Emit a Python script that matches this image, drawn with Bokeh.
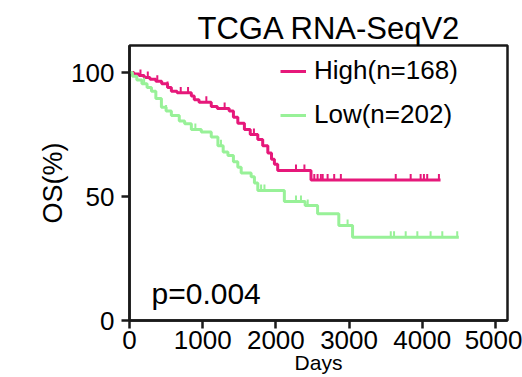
import numpy as np
from bokeh.plotting import figure
from bokeh.models import Range1d, Legend, LegendItem, Label, FixedTicker
from bokeh.embed import file_html
from bokeh.resources import INLINE

# ---- data ----
title_text = "TCGA RNA-SeqV2"
high_label = "High(n=168)"
low_label = "Low(n=202)"
x_ticks = [0, 1000, 2000, 3000, 4000, 5000]
y_ticks = [0, 50, 100]

high_t = [0, 60, 130, 200, 280, 360, 440, 520, 572, 650, 845, 885, 950, 1117, 1200,
          1362, 1420, 1480, 1570, 1650, 1753, 1820, 1890, 1940, 1980, 2025, 2480, 4250]
high_s = [100, 99.4, 98.8, 98, 97.3, 96.5, 95.5, 94, 92.5, 91.8, 90.5, 89, 88, 86.3, 85.5,
          84.5, 82, 79.5, 77, 75, 73, 70.5, 67.5, 65, 63, 60.5, 56.7, 56.7]
high_censor = [150, 250, 380, 520, 700, 800, 1050, 1300, 1700, 2275, 2390, 2525, 2570,
               2615, 2640, 2707, 2797, 2888, 3638, 3842, 3978, 4023, 4068, 4228]

low_t = [0, 40, 100, 170, 240, 300, 360, 436, 500, 572, 680, 754, 845, 981, 1117, 1208,
         1280, 1345, 1420, 1480, 1526, 1662, 1707, 1753, 2116, 2400, 2570, 2860, 3048, 4500]
low_s = [100, 98.5, 97, 95.5, 94, 92.5, 89.5, 86, 84.5, 82.7, 80.5, 79.3, 77, 76, 74, 70.5,
         68, 66.5, 64, 61.8, 59.5, 58, 55.5, 52.4, 48, 46.4, 43, 38.3, 33.6, 33.6]
low_censor = [200, 500, 900, 1250, 1798, 1844, 2275, 2343, 2435, 2980, 3570, 3615, 3774,
              3933, 4114, 4274, 4478]

p_value_text = "p=0.004"
x_label = "Days"
y_label = "OS(%)"

HIGH_COLOR = "#E6187A"
LOW_COLOR = "#98F198"
FONT = "Liberation Sans"


def surv_at(ts, ss, t):
    idx = np.searchsorted(np.asarray(ts), np.asarray(t), side="right") - 1
    return np.asarray(ss)[idx]


p = figure(width=522, height=377, output_backend="svg", toolbar_location=None,
           x_range=Range1d(0, 5165), y_range=Range1d(0, 110.9),
           min_border_left=129, min_border_right=15, min_border_top=45,
           min_border_bottom=57, title=title_text)

p.title.text_font = FONT
p.title.text_font_size = "31px"
p.title.text_font_style = "normal"
p.title.align = "left"
p.title.offset = 68
p.title.standoff = 0
p.title.text_color = "black"

p.xgrid.visible = False
p.ygrid.visible = False
p.outline_line_color = "#1a1a1a"
p.outline_line_width = 2.5
p.background_fill_color = "white"
p.border_fill_color = "white"

for ax in (p.xaxis, p.yaxis):
    ax.axis_line_width = 2.5
    ax.axis_line_color = "#1a1a1a"
    ax.major_tick_line_width = 2.5
    ax.major_tick_line_color = "#1a1a1a"
    ax.major_tick_in = 0
    ax.major_tick_out = 8
    ax.minor_tick_line_color = None
    ax.major_label_text_font = FONT
    ax.major_label_text_font_size = "26px"
    ax.major_label_text_color = "black"

p.xaxis.ticker = FixedTicker(ticks=x_ticks)
p.yaxis.ticker = FixedTicker(ticks=y_ticks)
p.xaxis.major_label_standoff = 2
p.yaxis.major_label_standoff = 7
p.xaxis.axis_label = x_label
p.xaxis.axis_label_text_font = FONT
p.xaxis.axis_label_text_font_size = "21px"
p.xaxis.axis_label_text_font_style = "normal"
p.xaxis.axis_label_text_color = "black"
p.xaxis.axis_label_standoff = -1
p.yaxis.axis_label = y_label
p.yaxis.axis_label_text_font = FONT
p.yaxis.axis_label_text_font_size = "27px"
p.yaxis.axis_label_text_font_style = "normal"
p.yaxis.axis_label_text_color = "black"
p.yaxis.axis_label_standoff = 0

# curves
hl = p.step(high_t, high_s, mode="after", line_color=HIGH_COLOR, line_width=3)
ll = p.step(low_t, low_s, mode="after", line_color=LOW_COLOR, line_width=3)

hc = p.scatter(high_censor, surv_at(high_t, high_s, high_censor) + 1.2, marker="dash",
               angle=np.pi / 2, size=6, line_color=HIGH_COLOR, line_width=2)
lc = p.scatter(low_censor, surv_at(low_t, low_s, low_censor) + 1.2, marker="dash",
               angle=np.pi / 2, size=6, line_color=LOW_COLOR, line_width=2)

legend = Legend(items=[LegendItem(label=high_label, renderers=[hl, hc]),
                       LegendItem(label=low_label, renderers=[ll, lc])],
                location=(151, 190))
legend.label_text_font = FONT
legend.label_text_font_size = "26px"
legend.label_text_color = "black"
legend.glyph_width = 26
legend.glyph_height = 30
legend.label_height = 30
legend.label_standoff = 8
legend.spacing = 13
legend.padding = 0
legend.margin = 0
legend.border_line_color = None
legend.background_fill_alpha = 0
p.add_layout(legend)

p.add_layout(Label(x=22, y=27, x_units="screen", y_units="screen", text=p_value_text,
                   text_font=FONT, text_font_size="30px", text_color="black",
                   text_baseline="alphabetic"))

open("out.html", "w").write(file_html(p, INLINE))
